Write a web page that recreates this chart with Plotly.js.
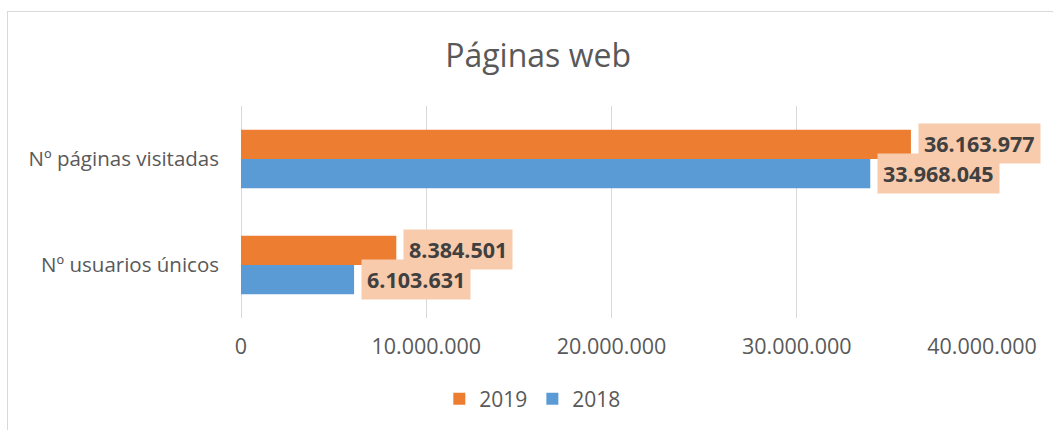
<!DOCTYPE html>
<html>
<head>
<meta charset="utf-8">
<script src="https://cdn.plot.ly/plotly-3.0.1.min.js"></script>
<style>
  body { margin: 0; background: #FFFFFF; }
  #wrap { position: relative; width: 1053px; height: 430px; }
  #chart { width: 1053px; height: 430px; }
  /* light frame of the original chart box */
  #frame {
    position: absolute; left: 7px; top: 11px; right: -2px; bottom: -2px;
    border-left: 1px solid #D9D9D9; border-top: 1px solid #D9D9D9;
    pointer-events: none;
  }
</style>
</head>
<body>
<div id="wrap">
  <div id="chart"></div>
  <div id="frame"></div>
</div>
<script>
// Chart data
const categories = ['Nº usuarios únicos', 'Nº páginas visitadas'];
const values2018 = [6103631, 33968045];
const values2019 = [8384501, 36163977];
const axisTicks = [0, 10000000, 20000000, 30000000, 40000000];

const COLOR_2019 = '#ED7D31';
const COLOR_2018 = '#5B9BD5';
const TEXT_GREY = '#595959';
const FONT = '"Open Sans", "DejaVu Sans", sans-serif';

// 36163977 -> "36.163.977"
function fmt(v) {
    return String(v).replace(/\B(?=(\d{3})+(?!\d))/g, '.');
}

const trace2018 = {
    y: categories,
    x: values2018,
    type: 'bar',
    orientation: 'h',
    name: '2018',
    marker: { color: COLOR_2018 },
    hovertemplate: '%{y}<br>%{x:,}<extra>2018</extra>'
};

const trace2019 = {
    y: categories,
    x: values2019,
    type: 'bar',
    orientation: 'h',
    name: '2019',
    marker: { color: COLOR_2019 },
    hovertemplate: '%{y}<br>%{x:,}<extra>2019</extra>'
};

// Data labels as boxed callouts right of each bar
function labels(vals, shift) {
    return vals.map((v, i) => ({
        x: v,
        y: categories[i],
        xref: 'x',
        yref: 'y',
        text: '<b>' + fmt(v) + '</b>',
        showarrow: false,
        xanchor: 'left',
        yanchor: 'middle',
        xshift: 7,
        yshift: shift,
        bgcolor: '#F8CBAD',
        borderpad: 5,
        font: { family: FONT, size: 21.5, color: '#404040' }
    }));
}

const layout = {
    width: 1053,
    height: 430,
    margin: { l: 241, r: 71, t: 106, b: 112 },
    paper_bgcolor: '#FFFFFF',
    plot_bgcolor: '#FFFFFF',
    font: { family: FONT, color: TEXT_GREY },
    separators: ',.',
    title: {
        text: 'Páginas web',
        font: { family: FONT, size: 32, color: TEXT_GREY },
        x: 0.511,
        xref: 'container',
        xanchor: 'center',
        y: 0.87,
        yref: 'container',
        yanchor: 'middle'
    },
    barmode: 'group',
    bargap: 0.45,
    bargroupgap: 0,
    xaxis: {
        range: [0, 40000000],
        tickvals: axisTicks,
        tickformat: ',d',
        showgrid: true,
        gridcolor: '#D9D9D9',
        gridwidth: 1,
        zeroline: true,
        zerolinecolor: '#D9D9D9',
        showline: false,
        ticks: '',
        ticklabelstandoff: 13,
        tickfont: { family: FONT, size: 21.5, color: TEXT_GREY },
        fixedrange: true
    },
    yaxis: {
        type: 'category',
        showgrid: false,
        zeroline: false,
        showline: false,
        ticks: '',
        ticklabelstandoff: 21,
        tickfont: { family: FONT, size: 20.5, color: TEXT_GREY },
        fixedrange: true
    },
    showlegend: true,
    legend: {
        orientation: 'h',
        traceorder: 'reversed',
        xref: 'container',
        yref: 'container',
        x: 0.506,
        xanchor: 'center',
        y: 0.072,
        yanchor: 'middle',
        font: { family: FONT, size: 21, color: TEXT_GREY },
        itemwidth: 30
    },
    annotations: labels(values2019, 15.5).concat(labels(values2018, -14.5))
};

Plotly.newPlot('chart', [trace2018, trace2019], layout, { displayModeBar: false, responsive: false });
</script>
</body>
</html>
